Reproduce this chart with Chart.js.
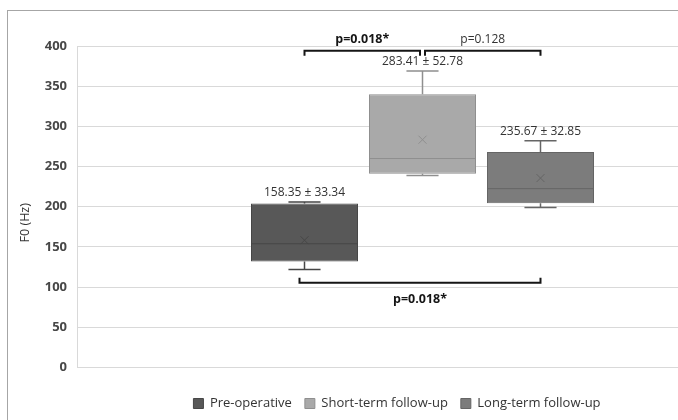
<!DOCTYPE html>
<html>
<head>
<meta charset="utf-8">
<script src="https://cdn.jsdelivr.net/npm/chart.js@4.4.1/dist/chart.umd.min.js"></script>
<style>
  html, body { margin: 0; padding: 0; background: #fff; overflow: hidden; width: 678px; height: 420px; }
  #wrap { position: relative; width: 794px; height: 420px; }
  #frame { position: absolute; left: 7px; top: 10px; width: 800px; height: 420px;
           border-left: 1px solid #a6a6a6; border-top: 1px solid #a6a6a6; pointer-events: none; }
  canvas { position: absolute; left: 0; top: 0; }
</style>
</head>
<body>
<div id="wrap">
  <div id="frame"></div>
  <canvas id="chart" width="794" height="420"></canvas>
</div>
<script>
// F0 (Hz) distribution per assessment time point
const groups      = ['Pre-operative', 'Short-term follow-up', 'Long-term follow-up'];
const whiskerLow  = [122, 239, 199];
const quartile1   = [132, 241, 204.5];
const medians     = [154, 260, 222.5];
const quartile3   = [204, 340, 268];
const whiskerHigh = [206, 369, 282];
const means       = [158.35, 283.41, 235.67];
const stdDevs     = [33.34, 52.78, 32.85];

// pairwise comparisons (group indices) and their p-values
const comparisons = [[0, 1], [1, 2], [0, 2]];
const pValues     = ['p=0.018*', 'p=0.128', 'p=0.018*'];

const yTicks = [0, 50, 100, 150, 200, 250, 300, 350, 400];

const fills   = ['#585858', '#a9a9a9', '#7c7c7c'];
const strokes = ['#474747', '#8f8f8f', '#656565'];
const FONT = "'Open Sans', 'Liberation Sans', sans-serif";

Chart.defaults.font.family = FONT;

const boxPlot = {
  id: 'boxPlot',
  afterLayout(chart) {
    // centre the legend under the full canvas width
    const lg = chart.legend;
    const shift = chart.width / 2 - (lg.left + lg.right) / 2;
    lg.left += shift;
    lg.right += shift;
  },
  afterDatasetsDraw(chart, args, opts) {
    const ctx = chart.ctx;
    const ys = chart.scales.y;
    const centres = [];
    ctx.save();
    chart.data.datasets.forEach((ds, i) => {
      const bar = chart.getDatasetMeta(i).data[0];
      const cx = bar.x, w = bar.width;
      centres.push(cx);
      const cap = w * 0.3;
      const yMin = ys.getPixelForValue(whiskerLow[i]);
      const yQ1 = ys.getPixelForValue(quartile1[i]);
      const yMed = ys.getPixelForValue(medians[i]);
      const yQ3 = ys.getPixelForValue(quartile3[i]);
      const yMax = ys.getPixelForValue(whiskerHigh[i]);
      const yMean = ys.getPixelForValue(means[i]);

      ctx.strokeStyle = strokes[i];
      ctx.lineWidth = 1.5;
      ctx.beginPath();
      // whiskers
      ctx.moveTo(cx, yQ3); ctx.lineTo(cx, yMax);
      ctx.moveTo(cx - cap / 2, yMax); ctx.lineTo(cx + cap / 2, yMax);
      ctx.moveTo(cx, yQ1); ctx.lineTo(cx, yMin);
      ctx.moveTo(cx - cap / 2, yMin); ctx.lineTo(cx + cap / 2, yMin);
      ctx.stroke();

      // median
      ctx.lineWidth = 1;
      ctx.beginPath();
      ctx.moveTo(cx - w / 2, yMed); ctx.lineTo(cx + w / 2, yMed);
      ctx.stroke();

      // mean marker
      const m = 4;
      ctx.beginPath();
      ctx.moveTo(cx - m, yMean - m); ctx.lineTo(cx + m, yMean + m);
      ctx.moveTo(cx + m, yMean - m); ctx.lineTo(cx - m, yMean + m);
      ctx.stroke();

      // mean ± SD label
      ctx.fillStyle = '#333';
      ctx.font = `12px ${FONT}`;
      ctx.textAlign = 'center';
      ctx.textBaseline = 'middle';
      ctx.fillText(`${means[i].toFixed(2)} \u00b1 ${stdDevs[i].toFixed(2)}`, cx, yMax - 9);
    });

    // significance brackets
    comparisons.forEach((pair, k) => {
      const b = opts.brackets[k];
      const x1 = centres[pair[0]] + b.ends[0];
      const x2 = centres[pair[1]] + b.ends[1];
      const yl = ys.getPixelForValue(b.level);
      const tick = b.above ? 5 : -5;
      ctx.strokeStyle = '#151515';
      ctx.lineWidth = 2;
      ctx.beginPath();
      ctx.moveTo(x1, yl + tick);
      ctx.lineTo(x1, yl);
      ctx.lineTo(x2, yl);
      ctx.lineTo(x2, yl + tick);
      ctx.stroke();
      const significant = pValues[k].endsWith('*');
      ctx.fillStyle = significant ? '#151515' : '#333';
      ctx.font = significant ? `bold 12.5px ${FONT}` : `12px ${FONT}`;
      ctx.textAlign = 'center';
      ctx.textBaseline = 'middle';
      ctx.fillText(pValues[k], (x1 + x2) / 2, b.above ? yl - 11 : yl + 17);
    });

    // y-axis title
    const ca = chart.chartArea;
    ctx.translate(ca.left - 52, (ca.top + ca.bottom) / 2 + 16);
    ctx.rotate(-Math.PI / 2);
    ctx.fillStyle = '#333';
    ctx.font = `12.5px ${FONT}`;
    ctx.textAlign = 'center';
    ctx.textBaseline = 'middle';
    ctx.fillText('F0 (Hz)', 0, 0);
    ctx.restore();
  }
};

new Chart(document.getElementById('chart'), {
  type: 'bar',
  data: {
    labels: [''],
    datasets: groups.map((g, i) => ({
      label: g,
      data: [[quartile1[i], quartile3[i]]],
      backgroundColor: fills[i],
      borderColor: strokes[i],
      borderWidth: 1,
      borderSkipped: false,
      categoryPercentage: 0.5123,
      barPercentage: 0.907
    }))
  },
  options: {
    responsive: false,
    animation: false,
    layout: { padding: { left: 0, right: 26, top: 46, bottom: 0 } },
    scales: {
      x: {
        grid: { display: false },
        border: { display: false },
        ticks: { display: false },
        afterFit(s) { s.height = 16.5; }
      },
      y: {
        min: 0,
        max: 400,
        afterBuildTicks(s) { s.ticks = yTicks.map(v => ({ value: v })); },
        grid: { color: '#d9d9d9', lineWidth: 1, drawTicks: false },
        border: { display: true, color: '#d9d9d9' },
        ticks: { padding: 10, color: '#474747', font: { size: 13, weight: 'bold' } },
        afterFit(s) { s.width = 77; }
      }
    },
    plugins: {
      tooltip: { enabled: false },
      legend: {
        position: 'bottom',
        labels: { boxWidth: 10, boxHeight: 10, padding: 13, color: '#333', font: { size: 13 } }
      },
      boxPlot: {
        brackets: [
          { level: 394, above: true,  ends: [0, -2.5] },
          { level: 394, above: true,  ends: [2.5, 0] },
          { level: 105.5, above: false, ends: [-5, 0] }
        ]
      }
    }
  },
  plugins: [boxPlot]
});
</script>
</body>
</html>
